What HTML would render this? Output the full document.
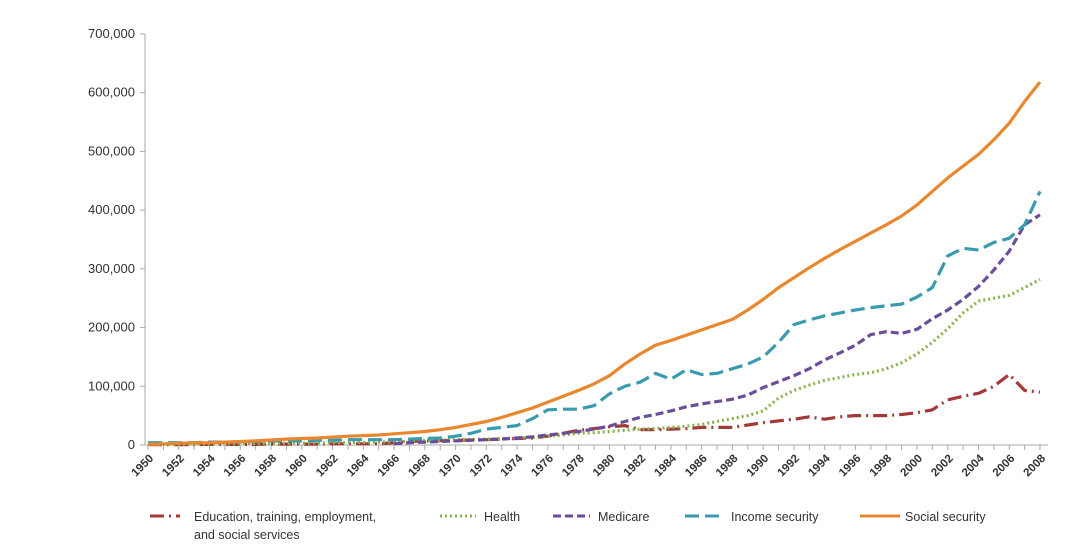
<!DOCTYPE html>
<html><head><meta charset="utf-8">
<style>
body{margin:0;background:#fff;font-family:"Liberation Sans",sans-serif;}
svg text{font-family:"Liberation Sans",sans-serif;fill:#333;}
</style></head>
<body>
<svg id="chart" width="1080" height="555" xmlns="http://www.w3.org/2000/svg">
<rect width="1080" height="555" fill="#fff"/>
<g id="axes"></g>
<g id="series"></g>
<g id="legend">
 <line x1="150" y1="516" x2="180" y2="516" stroke="#a33a3a" stroke-width="3" stroke-dasharray="14,5,2,5"/>
 <text x="194" y="521" font-size="12.5">Education, training, employment,</text>
 <text x="194" y="539" font-size="12.5">and social services</text>
 <line x1="440" y1="516" x2="476" y2="516" stroke="#8ab34a" stroke-width="3" stroke-dasharray="2,3"/>
 <text x="484" y="521" font-size="12.5">Health</text>
 <line x1="553" y1="516" x2="590" y2="516" stroke="#6a4e9a" stroke-width="3" stroke-dasharray="8,4"/>
 <text x="598" y="521" font-size="12.5">Medicare</text>
 <line x1="685" y1="516" x2="722" y2="516" stroke="#3a9bb0" stroke-width="3" stroke-dasharray="14,6"/>
 <text x="731" y="521" font-size="12.5">Income security</text>
 <line x1="860" y1="516" x2="900" y2="516" stroke="#e8872e" stroke-width="3"/>
 <text x="905" y="521" font-size="12.5">Social security</text>
</g>
</svg>
<script>
const years=[];for(let y=1950;y<=2008;y++)years.push(y);
const yTicks=[0,100000,200000,300000,400000,500000,600000,700000];
const social=[1000,2000,3000,3500,4000,5000,6000,7000,8500,10000,11000,12000,13500,15000,16000,17000,19000,21000,23000,26000,30000,35000,40000,47000,55000,63000,73000,83000,93000,104000,118000,138000,155000,170000,178000,187000,196000,205000,214000,230000,248000,268000,285000,302000,318000,333000,347000,361000,375000,390000,409000,432000,455000,475000,495000,520000,548000,585000,618000];
const income=[4000,4000,4000,4000,5000,5000,5000,6000,7000,7000,7000,8000,8000,9000,9000,9000,9000,10000,11000,12000,15000,20000,27000,30000,33000,45000,60000,61000,61000,67000,87000,100000,107000,122000,112000,128000,120000,122000,130000,138000,150000,175000,205000,213000,220000,225000,230000,234000,237000,240000,252000,268000,322000,335000,332000,345000,352000,375000,432000];
const medicare=[null,null,null,null,null,null,null,null,null,null,null,null,null,null,null,null,2000,4000,5000,6000,7000,8000,9000,10000,12000,14000,17000,20000,23000,27000,32000,40000,47000,52000,58000,65000,70000,74000,78000,85000,98000,108000,118000,130000,145000,157000,170000,188000,193000,190000,197000,215000,230000,248000,270000,298000,330000,375000,392000];
const health=[1000,1000,1000,1500,1500,2000,2000,2500,2500,3000,3000,3500,4000,4500,4500,5000,5500,6500,7500,8500,9000,9500,10000,11000,12000,13000,15000,17000,20000,21000,23000,25000,27000,28000,30000,32000,35000,40000,45000,50000,58000,80000,93000,102000,110000,115000,120000,123000,130000,140000,155000,175000,198000,225000,245000,250000,255000,268000,282000];
const education=[500,500,500,500,1000,1000,1000,1000,1500,1500,1500,1500,2000,2000,2000,2000,4000,6000,7000,7500,8000,8500,9000,10000,11000,12000,15000,20000,25000,28000,31000,33000,26000,26000,27000,28000,30000,30000,30000,34000,38000,41000,44000,48000,44000,48000,50000,50000,50000,52000,55000,60000,77000,83000,88000,100000,120000,93000,90000];

const x0=148,x1=1040,y0=445,yTop=34;
const xs=i=>x0+(x1-x0)*i/(years.length-1);
const ys=v=>y0-(y0-yTop)*v/700000;
const NS="http://www.w3.org/2000/svg";
const axes=document.getElementById('axes'),ser=document.getElementById('series');
function mk(t,a,p){const e=document.createElementNS(NS,t);for(const k in a)e.setAttribute(k,a[k]);p.appendChild(e);return e;}
const ya=mk('line',{x1:145,y1:yTop,x2:145,y2:y0,stroke:'#aaa'},axes);


const xa=mk('line',{x1:143,y1:y0,x2:1048,y2:y0,stroke:'#aaa'},axes);


yTicks.forEach(v=>{
 const tk=mk('line',{x1:140,y1:ys(v),x2:145,y2:ys(v),stroke:'#aaa'},axes);
 
 
 const t=mk('text',{x:135,y:ys(v)+4,'text-anchor':'end','font-size':'13'},axes);
 t.textContent=v.toLocaleString('en-US');
 
 
});
years.forEach((yr,i)=>{
 const tk=mk('line',{x1:xs(i),y1:y0,x2:xs(i),y2:y0+5,stroke:'#aaa'},axes);
 
 
 if(i%2===0){
  const t=mk('text',{x:xs(i)+6,y:y0+14,'text-anchor':'end','font-size':'11.5','font-weight':'bold',transform:`rotate(-45 ${xs(i)+6} ${y0+14})`},axes);
  t.textContent=yr;
  
  
 }
});
function line(data,color,dash,name){
 let d='',pen=false;
 data.forEach((v,i)=>{if(v==null){pen=false;return;}d+=(pen?'L':'M')+xs(i).toFixed(1)+' '+ys(v).toFixed(1);pen=true;});
 const p=mk('path',{d:d,fill:'none',stroke:color,'stroke-width':3.2,'stroke-dasharray':dash,'stroke-linejoin':'round'},ser);
 
 
}
line(education,'#a33a3a','14,5,2,5','education-line');
line(health,'#8ab34a','2,3','health-line');
line(medicare,'#6a4e9a','8,4','medicare-line');
line(income,'#3a9bb0','14,6','income-security-line');
line(social,'#e8872e','none','social-security-line');
</script>
</body></html>
